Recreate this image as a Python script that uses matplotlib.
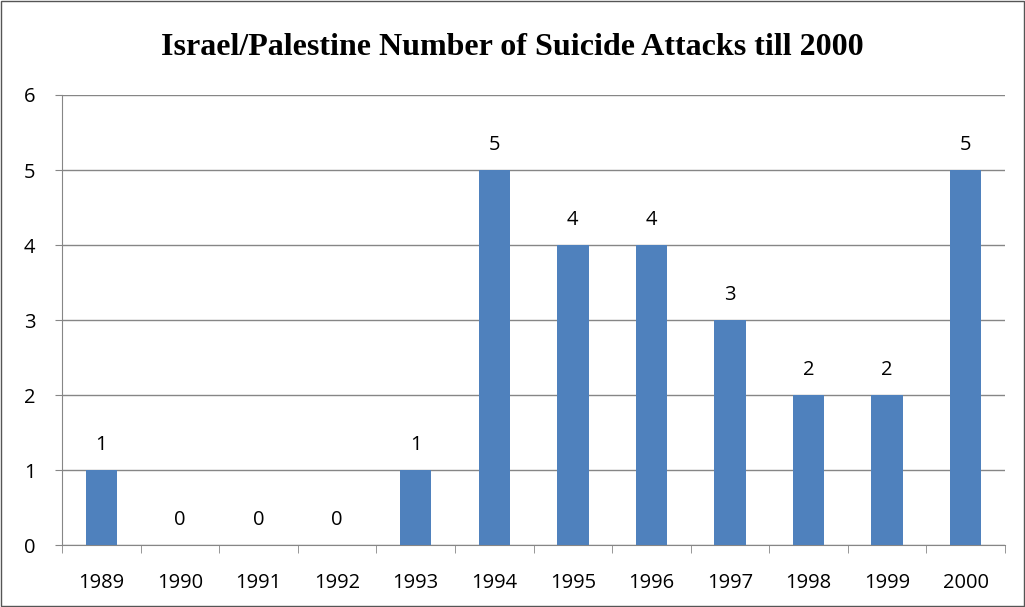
import matplotlib.pyplot as plt
from matplotlib.patches import Rectangle

years = ["1989", "1990", "1991", "1992", "1993", "1994",
         "1995", "1996", "1997", "1998", "1999", "2000"]
attacks = [1, 0, 0, 0, 1, 5, 4, 4, 3, 2, 2, 5]

fig = plt.figure(figsize=(10.25, 6.07), dpi=100)
ax = fig.add_axes([0.0605, 0.1021, 0.92, 0.7414])

x = list(range(len(years)))
ax.bar(x, attacks, width=0.4, color="#4F81BD", zorder=3)

for xi, v in zip(x, attacks):
    ax.text(xi, v + 0.2, str(v), ha="center", va="bottom",
            fontsize=14.5, family="Open Sans", color="black")

ax.set_xlim(-0.5, len(years) - 0.5)
ax.set_ylim(0, 6)
ax.set_yticks(range(0, 7))
ax.set_xticks(x)
ax.set_xticklabels(years)
ax.set_xticks([i - 0.5 for i in range(len(years) + 1)], minor=True)
ax.tick_params(axis="x", which="major", length=0, pad=20)
ax.tick_params(axis="x", which="minor", length=6, color="#868686")
ax.tick_params(axis="y", length=5, color="#868686", pad=14)
for lbl in ax.get_xticklabels() + ax.get_yticklabels():
    lbl.set_fontfamily("Open Sans")
    lbl.set_fontsize(14.5)

ax.grid(axis="y", color="#868686", linewidth=1, zorder=0)
for s in ["top", "right"]:
    ax.spines[s].set_visible(False)
for s in ["left", "bottom"]:
    ax.spines[s].set_color("#868686")

fig.suptitle("Israel/Palestine Number of Suicide Attacks till 2000",
             y=0.945, fontsize=23, fontweight="bold", family="Liberation Serif")

fig.patches.append(Rectangle((0.001, 0.001), 0.998, 0.997, transform=fig.transFigure,
                             fill=False, edgecolor="#555555", linewidth=1))

fig.savefig("out.png", dpi=100)
